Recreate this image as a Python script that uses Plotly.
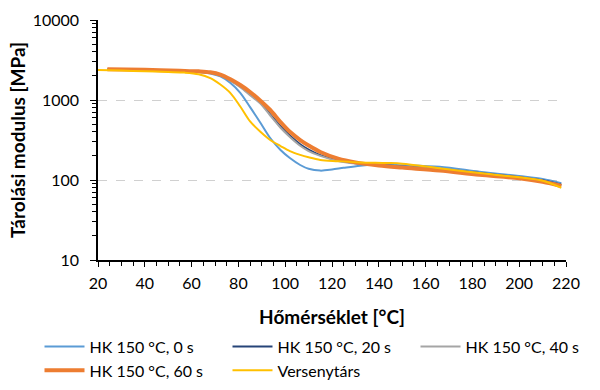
import plotly.graph_objects as go

# Temperatures [°C] and storage modulus [MPa] per series
t_0s = [24, 40, 55, 62, 68, 72.3, 76.6, 80.8, 85, 89.4, 93.6, 98, 102, 106.4, 110, 115, 120, 125, 132, 140, 150, 166, 183, 200, 210, 218]
e_0s = [2400, 2370, 2300, 2250, 2140, 1970, 1630, 1230, 815, 520, 335, 237, 188, 154, 138, 131, 135, 142, 151, 156, 153, 146, 127, 112, 103, 91]

t_20s = [24, 40, 55, 63, 68, 72.3, 76.6, 80.8, 85, 89.4, 93.6, 98, 102, 106.4, 110, 115, 122.6, 130, 140, 150, 166, 183, 200, 210, 218]
e_20s = [2400, 2370, 2300, 2260, 2190, 2040, 1760, 1480, 1180, 930, 660, 470, 360, 280, 240, 205, 176, 162, 154, 147, 137, 122, 108, 99, 87]

t_40s = [24, 40, 55, 63, 68, 72.3, 76.6, 80.8, 85, 89.4, 93.6, 98, 102, 106.4, 110, 115, 122.6, 130, 140, 150, 166, 183, 200, 210, 218]
e_40s = [2380, 2360, 2300, 2250, 2180, 2020, 1740, 1450, 1150, 900, 640, 450, 345, 268, 230, 200, 173, 161, 153, 146, 136, 121, 107, 98, 86]

t_60s = [24, 40, 55, 63, 68, 72.3, 76.6, 80.8, 85, 89.4, 93.6, 98, 102, 106.4, 110, 115, 122.6, 130, 140, 150, 166, 183, 200, 210, 218]
e_60s = [2420, 2380, 2320, 2280, 2220, 2080, 1820, 1540, 1260, 980, 750, 530, 400, 316, 270, 224, 185, 166, 152, 143, 131, 116, 105, 95, 84]

t_comp = [20, 30, 40, 50, 57, 63, 68, 72.3, 76.6, 80.8, 85, 89.4, 93.6, 98, 102, 106.4, 110, 115, 122.6, 132, 143.5, 150, 166, 183, 200, 210, 218]
e_comp = [2370, 2330, 2290, 2240, 2200, 2100, 1880, 1560, 1220, 830, 540, 400, 316, 266, 230, 206, 192, 178, 172, 166, 163, 160, 140, 122, 108, 98, 80]

y_tickvals = [10, 100, 1000, 10000]
y_ticktext = ["10", "100", "1000", "10000"]
y_minor_vals = [m * d for d in (10, 100, 1000) for m in range(2, 10)]

series = [
    ("HK 150 °C, 0 s", t_0s, e_0s, "#5B9BD5", 2),
    ("HK 150 °C, 20 s", t_20s, e_20s, "#264478", 2),
    ("HK 150 °C, 40 s", t_40s, e_40s, "#A5A5A5", 2),
    ("HK 150 °C, 60 s", t_60s, e_60s, "#ED7D31", 4),
    ("Versenytárs", t_comp, e_comp, "#FFC000", 2),
]

fig = go.Figure()
for name, t, e, color, w in series:
    fig.add_trace(go.Scatter(x=t, y=e, mode="lines", name=name,
                             line=dict(color=color, width=w, shape="spline", smoothing=0.9)))

font = "Lato, 'Open Sans', sans-serif"
fig.update_layout(
    width=600, height=390,
    margin=dict(l=98, r=34, t=20, b=130, autoexpand=False),
    paper_bgcolor="white", plot_bgcolor="white",
    font=dict(family=font, color="black", size=16),
    showlegend=True,
    legend=dict(orientation="h", xref="paper", yref="paper",
                x=-0.125, y=-0.29, xanchor="left", yanchor="top",
                entrywidth=133, font=dict(size=16), tracegroupgap=0,
                itemwidth=40),
)
fig.update_xaxes(
    range=[20, 220], dtick=20, tick0=20, automargin=False,
    showline=True, linecolor="black", linewidth=1.5,
    ticks="outside", ticklen=5, tickcolor="black", ticklabelstandoff=3,
    minor=dict(ticks="outside", ticklen=4, dtick=5, tickcolor="black"),
    showgrid=False, zeroline=False,
    tickfont=dict(size=16),
    title=dict(text="<b>Hőmérséklet [°C]</b>", font=dict(size=19), standoff=20),
)
fig.update_yaxes(
    type="log", range=[1, 4], automargin=False,
    tickmode="array", tickvals=y_tickvals, ticktext=y_ticktext,
    showline=True, linecolor="black", linewidth=1.5,
    ticks="outside", ticklen=6, tickcolor="black", ticklabelstandoff=8,
    minor=dict(ticks="outside", ticklen=4, tickcolor="black", showgrid=False,
               tickmode="array", tickvals=y_minor_vals),
    showgrid=True, gridcolor="#D0D0D0", griddash="dash", gridwidth=1,
    zeroline=False,
    tickfont=dict(size=16),
    title=dict(text="<b>Tárolási modulus [MPa]</b>", font=dict(size=19), standoff=2),
)

fig.write_html("out.html", config={"displayModeBar": False},
               post_script="document.documentElement.style.margin='0';document.body.style.margin='0';")
